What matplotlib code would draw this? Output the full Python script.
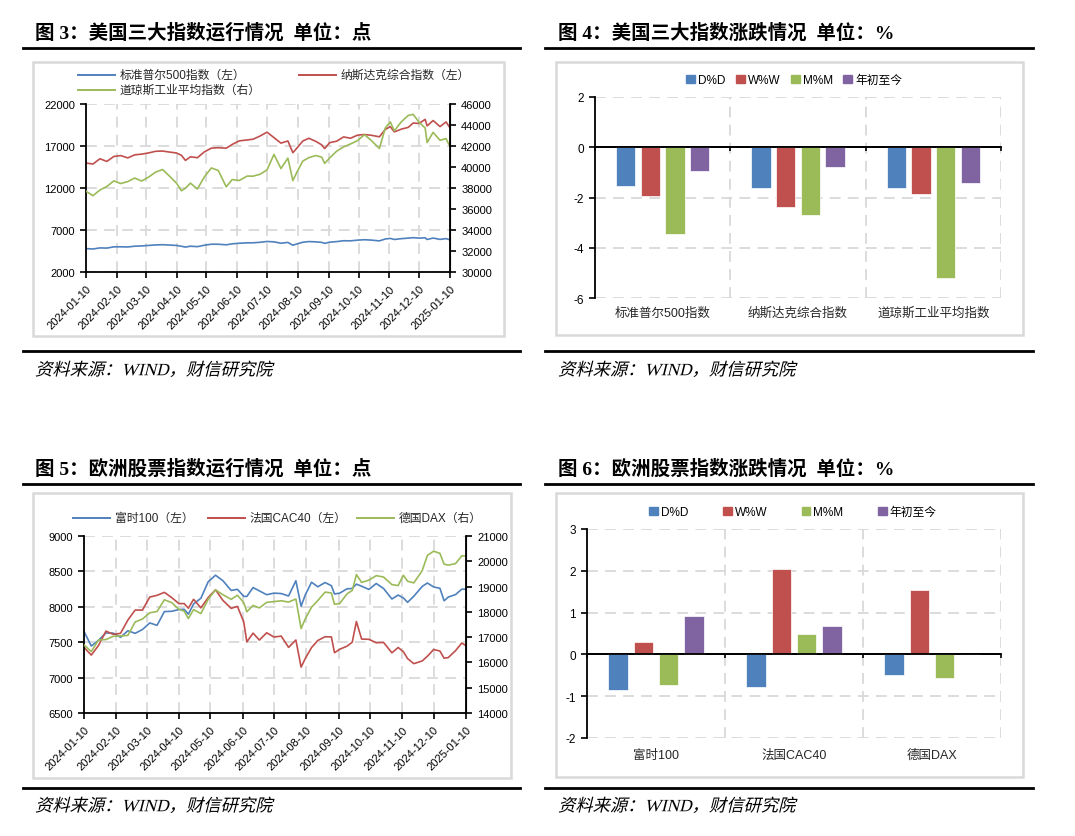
import matplotlib.pyplot as plt
import matplotlib.dates as mdates
import matplotlib.transforms as mtransforms
from matplotlib.lines import Line2D
from matplotlib.patches import Rectangle, Patch, PathPatch
from matplotlib.textpath import TextPath
from matplotlib.font_manager import FontProperties
import pandas as pd

plt.rcParams['font.family'] = ['Liberation Sans', 'Noto Sans CJK SC']
plt.rcParams['axes.unicode_minus'] = False

# ---------------- data ----------------
us_dates = ['2024-01-10', '2024-01-17', '2024-01-24', '2024-01-31', '2024-02-07', '2024-02-14',
            '2024-02-21', '2024-02-28', '2024-03-06', '2024-03-13', '2024-03-20', '2024-03-27',
            '2024-04-03', '2024-04-10', '2024-04-15', '2024-04-19', '2024-04-24', '2024-05-01',
            '2024-05-08', '2024-05-15', '2024-05-22', '2024-05-30', '2024-06-05', '2024-06-12',
            '2024-06-20', '2024-06-26', '2024-07-03', '2024-07-10', '2024-07-17', '2024-07-24',
            '2024-07-31', '2024-08-05', '2024-08-09', '2024-08-15', '2024-08-21', '2024-08-28',
            '2024-09-03', '2024-09-06', '2024-09-11', '2024-09-18', '2024-09-25', '2024-10-02',
            '2024-10-09', '2024-10-16', '2024-10-23', '2024-10-31', '2024-11-06', '2024-11-11',
            '2024-11-15', '2024-11-22', '2024-11-29', '2024-12-04', '2024-12-10', '2024-12-16',
            '2024-12-18', '2024-12-24', '2024-12-31', '2025-01-06', '2025-01-10']
spx = [4783, 4739, 4868, 4846, 4995, 5000, 4981, 5070, 5105, 5165,
       5225, 5248, 5211, 5161, 5061, 4967, 5071, 5018, 5187, 5308,
       5307, 5236, 5354, 5421, 5473, 5478, 5537, 5633, 5589, 5427,
       5522, 5186, 5344, 5543, 5620, 5592, 5529, 5408, 5554, 5618,
       5722, 5709, 5792, 5842, 5797, 5705, 5929, 6001, 5871, 5969,
       6032, 6086, 6034, 6074, 5872, 6040, 5882, 5975, 5827]
nasdaq = [14970, 14856, 15482, 15164, 15756, 15859, 15580, 15948, 16032, 16178,
          16369, 16399, 16277, 16170, 15885, 15282, 15713, 15605, 16302, 16742,
          16801, 16737, 17187, 17608, 17721, 17805, 18188, 18647, 17997, 17342,
          17599, 16200, 16745, 17594, 17919, 17556, 17136, 16691, 17396, 17573,
          18082, 17925, 18291, 18367, 18276, 18095, 18983, 19299, 18680, 19004,
          19218, 19735, 19687, 20173, 19393, 20031, 19311, 19865, 19162]
dow = [37696, 37267, 37807, 38150, 38677, 38424, 38612, 38949, 38661, 39043,
       39512, 39760, 39127, 38461, 37735, 37986, 38461, 37903, 39056, 39908,
       39671, 38112, 38807, 38712, 39134, 39127, 39308, 39721, 41198, 39854,
       40843, 38703, 39497, 40563, 40890, 41091, 40937, 40345, 40861, 41503,
       41915, 42196, 42512, 43077, 42514, 41763, 43729, 44293, 43445, 44297,
       44911, 45014, 44248, 43717, 42327, 43297, 42544, 42706, 41938]

eu_dates = ['2024-01-10', '2024-01-17', '2024-01-24', '2024-01-31', '2024-02-07', '2024-02-14',
            '2024-02-21', '2024-02-28', '2024-03-06', '2024-03-13', '2024-03-20', '2024-03-27',
            '2024-04-03', '2024-04-10', '2024-04-15', '2024-04-19', '2024-04-24', '2024-05-01',
            '2024-05-08', '2024-05-15', '2024-05-22', '2024-05-30', '2024-06-05', '2024-06-11',
            '2024-06-14', '2024-06-20', '2024-06-26', '2024-07-03', '2024-07-10', '2024-07-17',
            '2024-07-24', '2024-07-31', '2024-08-05', '2024-08-09', '2024-08-15', '2024-08-21',
            '2024-08-28', '2024-09-03', '2024-09-06', '2024-09-11', '2024-09-18', '2024-09-23',
            '2024-09-27', '2024-10-02', '2024-10-09', '2024-10-16', '2024-10-23', '2024-10-31',
            '2024-11-06', '2024-11-11', '2024-11-15', '2024-11-21', '2024-11-29', '2024-12-04',
            '2024-12-10', '2024-12-16', '2024-12-20', '2024-12-24', '2024-12-31', '2025-01-06',
            '2025-01-10']
ftse = [7651, 7446, 7528, 7631, 7628, 7569, 7662, 7625, 7679, 7772,
        7738, 7932, 7937, 7961, 7965, 7896, 8040, 8121, 8354, 8446,
        8370, 8231, 8247, 8148, 8146, 8272, 8225, 8171, 8193, 8187,
        8153, 8368, 8008, 8168, 8347, 8283, 8343, 8298, 8181, 8193,
        8254, 8259, 8320, 8291, 8245, 8329, 8259, 8110, 8166, 8125,
        8063, 8149, 8287, 8336, 8280, 8262, 8085, 8137, 8173, 8249,
        8248]
cac = [7426, 7318, 7456, 7657, 7611, 7625, 7812, 7954, 7953, 8138,
       8162, 8204, 8130, 8045, 8045, 7980, 8106, 7985, 8131, 8240,
       8092, 7978, 8006, 7790, 7504, 7628, 7530, 7633, 7573, 7586,
       7427, 7531, 7148, 7269, 7424, 7524, 7577, 7575, 7352, 7400,
       7444, 7500, 7792, 7544, 7541, 7492, 7497, 7350, 7425, 7365,
       7269, 7197, 7235, 7301, 7397, 7375, 7274, 7283, 7381, 7489,
       7450]
dax = [16690, 16431, 16890, 16904, 17033, 17046, 17068, 17601, 17716, 17961,
       18015, 18477, 18367, 18097, 18026, 17737, 18089, 17932, 18498, 18869,
       18680, 18496, 18657, 18370, 18002, 18254, 18155, 18375, 18407, 18438,
       18387, 18509, 17339, 17723, 18184, 18448, 18782, 18747, 18302, 18330,
       18711, 18847, 19474, 19164, 19254, 19432, 19378, 19078, 19039, 19448,
       19211, 19146, 19626, 20233, 20399, 20314, 19885, 19848, 19909, 20216,
       20215]

bar_series = ['D%D', 'W%W', 'M%M', '年初至今']
us_cats = ['标准普尔500指数', '纳斯达克综合指数', '道琼斯工业平均指数']
us_chg = {
    'D%D': [-1.55, -1.63, -1.63],
    'W%W': [-1.96, -2.36, -1.87],
    'M%M': [-3.46, -2.68, -5.22],
    '年初至今': [-0.93, -0.78, -1.42],
}
eu_cats = ['富时100', '法国CAC40', '德国DAX']
eu_chg = {
    'D%D': [-0.85, -0.79, -0.50],
    'W%W': [0.30, 2.05, 1.55],
    'M%M': [-0.73, 0.49, -0.56],
    '年初至今': [0.93, 0.68, 0.0],
}

# ---------------- style ----------------
BLUE, RED, GREEN, PURPLE = '#4f81bd', '#c0504d', '#9bbb59', '#8064a2'
GRID = '#d9d9d9'
DASH = (0, (6, 4))
W, H = 1075, 837
TITLE_FONT = ['Liberation Serif', 'Noto Sans CJK SC']

fig = plt.figure(figsize=(W / 100, H / 100), dpi=100)


def rect(x0, y0, x1, y1):
    return [x0 / W, 1 - y1 / H, (x1 - x0) / W, (y1 - y0) / H]


def hline(y, x0, x1, lw=2.0, color='black'):
    fig.add_artist(Line2D([x0 / W, x1 / W], [1 - y / H] * 2, color=color, lw=lw))


def italic_text(x, y, s, size_px):
    # slanted text drawn as a path (the CJK font has no italic face)
    prop = FontProperties(family=TITLE_FONT)
    tp = TextPath((0, 0), s, size=size_px, prop=prop)
    tr = mtransforms.Affine2D().skew_deg(14, 0).translate(x, H - y - size_px * 0.36)
    fig.add_artist(PathPatch(tp, transform=tr, facecolor='black', edgecolor='none'))


def frame(xt, yt, title, xr0, xr1, yr1, box, yr2, ysrc):
    fig.text(xt / W, 1 - yt / H, title, fontsize=14, fontweight='bold',
             family=TITLE_FONT, va='center', ha='left')
    hline(yr1, xr0, xr1)
    bx0, by0, bx1, by1 = box
    fig.add_artist(Rectangle((bx0 / W, 1 - by1 / H), (bx1 - bx0) / W, (by1 - by0) / H,
                             fill=False, ec=GRID, lw=1.8))
    hline(yr2, xr0, xr1)
    italic_text(xt, ysrc, '资料来源：WIND，财信研究院', 17.3)


def fig_legend_line(x, y, color, label):
    fig.add_artist(Line2D([x / W, (x + 37) / W], [1 - y / H] * 2, color=color, lw=1.4))
    fig.text((x + 42) / W, 1 - y / H, label, fontsize=8.5, va='center', ha='left', color='#262626')


def line_panel(box, dates, left, right, lylim, lyticks, rylim, ryticks):
    ax = fig.add_axes(rect(*box))
    d = pd.to_datetime(dates)
    for vals, col in left:
        ax.plot(d, vals, color=col, lw=1.2)
    ax.set_ylim(*lylim)
    ax.set_yticks(lyticks)
    ax.set_xlim(pd.Timestamp('2024-01-10'), pd.Timestamp('2025-01-10'))
    ax.xaxis.set_major_locator(mdates.MonthLocator(bymonthday=10))
    ax.xaxis.set_major_formatter(mdates.DateFormatter('%Y-%m-%d'))
    ax.grid(True, ls=DASH, color=GRID, lw=1.3)
    ax.set_axisbelow(True)
    ax.spines['top'].set_visible(False)
    for s in ['left', 'bottom']:
        ax.spines[s].set_linewidth(1.3)
    ax.tick_params(axis='both', direction='out', length=4, width=1.2, labelsize=8, pad=4)
    plt.setp(ax.get_xticklabels(), rotation=45, ha='right', rotation_mode='anchor')
    ax2 = ax.twinx()
    for vals, col in right:
        ax2.plot(d, vals, color=col, lw=1.2)
    ax2.set_ylim(*rylim)
    ax2.set_yticks(ryticks)
    for s in ['top', 'left', 'bottom']:
        ax2.spines[s].set_visible(False)
    ax2.spines['right'].set_linewidth(1.3)
    ax2.tick_params(axis='y', direction='out', length=4, width=1.2, labelsize=8, pad=4)
    return ax, ax2


def bar_panel(box, cats, chg, ylim, yticks, lab_off, leg_xy, colspace):
    ax = fig.add_axes(rect(*box))
    colors = [BLUE, RED, GREEN, PURPLE]
    step, width = 0.182, 0.143
    xs = range(len(cats))
    for k, (name, col) in enumerate(zip(bar_series, colors)):
        off = (k - 1.5) * step
        ax.bar([x + off for x in xs], chg[name], width=width, color=col,
               edgecolor='white', lw=0.5, zorder=3)
    ax.set_xlim(-0.5, len(cats) - 0.5)
    ax.set_ylim(*ylim)
    ax.set_yticks(yticks)
    ax.yaxis.grid(True, ls=DASH, color=GRID, lw=1.3)
    for b in [0.5, 1.5, 2.5]:
        ax.axvline(b, ls=DASH, color=GRID, lw=1.3, zorder=0)
    ax.set_axisbelow(True)
    ax.axhline(0, color='black', lw=1.3, zorder=4)
    ax.spines['top'].set_visible(False)
    ax.spines['right'].set_visible(False)
    ax.spines['bottom'].set_position(('data', 0))
    ax.spines['bottom'].set_linewidth(1.3)
    ax.spines['left'].set_linewidth(1.3)
    ax.set_xticks([-0.5, 0.5, 1.5, 2.5])
    ax.tick_params(axis='x', direction='out', length=3, width=1.2, labelbottom=False)
    ax.tick_params(axis='y', direction='out', length=4, width=1.2, labelsize=8.5, pad=4)
    trans = mtransforms.blended_transform_factory(ax.transData, ax.transAxes)
    for i, c in enumerate(cats):
        ax.text(i, lab_off, c, transform=trans, ha='center', va='center',
                fontsize=9, color='#262626')
    handles = [Patch(color=c, label=n) for n, c in zip(bar_series, colors)]
    fig.legend(handles=handles, loc='center', bbox_to_anchor=(leg_xy[0] / W, 1 - leg_xy[1] / H),
               ncol=4, frameon=False, fontsize=8.5, handlelength=0.75, handleheight=0.75,
               handletextpad=0.25, columnspacing=colspace, borderpad=0)
    return ax


# ---------------- 图3 ----------------
frame(35, 33, '图 3：美国三大指数运行情况  单位：点', 23, 520, 49, (33, 63, 504, 337), 352, 370)
line_panel((86, 105, 450, 273), us_dates,
           [(spx, BLUE), (nasdaq, RED)], [(dow, GREEN)],
           (2000, 22000), range(2000, 22001, 5000),
           (30000, 46000), range(30000, 46001, 2000))
fig_legend_line(78, 76, BLUE, '标准普尔500指数（左）')
fig_legend_line(299, 76, RED, '纳斯达克综合指数（左）')
fig_legend_line(78, 91, GREEN, '道琼斯工业平均指数（右）')

# ---------------- 图4 ----------------
frame(558, 33, '图 4：美国三大指数涨跌情况  单位：%', 545, 1033, 49, (556, 63, 1023, 336), 352, 370)
bar_panel((595, 98, 1001, 299), us_cats, us_chg, (-6, 2), range(-6, 3, 2),
          -0.075, (794, 81), 0.9)

# ---------------- 图5 ----------------
frame(35, 469, '图 5：欧洲股票指数运行情况  单位：点', 23, 520, 485, (33, 494, 511, 779), 789, 806)
line_panel((84, 537, 466, 714), eu_dates,
           [(ftse, BLUE), (cac, RED)], [(dax, GREEN)],
           (6500, 9000), range(6500, 9001, 500),
           (14000, 21000), range(14000, 21001, 1000))
fig_legend_line(73, 519, BLUE, '富时100（左）')
fig_legend_line(208, 519, RED, '法国CAC40（左）')
fig_legend_line(357, 519, GREEN, '德国DAX（右）')

# ---------------- 图6 ----------------
frame(558, 469, '图 6：欧洲股票指数涨跌情况  单位：%', 545, 1033, 485, (556, 494, 1023, 778), 789, 806)
bar_panel((587, 530, 1001, 739), eu_cats, eu_chg, (-2, 3), range(-2, 4),
          -0.08, (793, 513), 2.9)

fig.savefig('out.png', dpi=100)
